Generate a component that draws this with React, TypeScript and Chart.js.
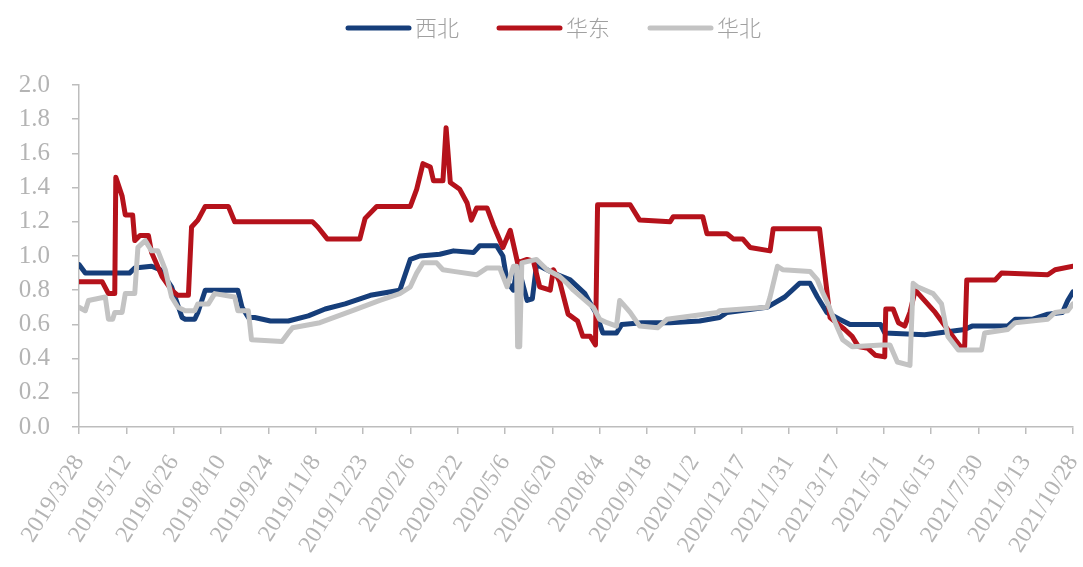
import React, { useEffect, useRef } from 'react';
import { Chart, registerables } from 'chart.js';

Chart.register(...registerables);

// Day offsets counted from 2019/3/28
const xibeiDays = [0, 6, 48, 53, 69, 77, 88, 98, 101, 110, 113, 120, 151, 155, 161, 167, 182, 199, 218, 234, 253, 277, 305, 315, 324, 343, 356, 375, 381, 397, 403, 407, 413, 417, 426, 431, 435, 451, 467, 481, 492, 498, 511, 516, 535, 562, 590, 609, 616, 654, 671, 685, 695, 702, 711, 723, 733, 762, 766, 804, 842, 849, 883, 890, 906, 921, 935, 940, 945];
const xibeiValues = [0.95, 0.9, 0.9, 0.93, 0.94, 0.92, 0.82, 0.64, 0.63, 0.63, 0.67, 0.8, 0.8, 0.7, 0.64, 0.64, 0.62, 0.62, 0.65, 0.69, 0.72, 0.77, 0.8, 0.98, 1.0, 1.01, 1.03, 1.02, 1.06, 1.06, 1.0, 0.85, 0.8, 0.95, 0.74, 0.75, 0.95, 0.9, 0.86, 0.78, 0.66, 0.55, 0.55, 0.6, 0.61, 0.61, 0.62, 0.64, 0.67, 0.7, 0.76, 0.84, 0.84, 0.76, 0.67, 0.63, 0.6, 0.6, 0.55, 0.54, 0.57, 0.59, 0.59, 0.63, 0.63, 0.66, 0.67, 0.74, 0.79];

const huadongDays = [0, 22, 28, 34, 35, 41, 44, 51, 53, 58, 66, 69, 79, 88, 94, 104, 107, 113, 120, 142, 148, 222, 227, 236, 267, 272, 283, 315, 321, 327, 334, 337, 346, 349, 353, 362, 369, 373, 378, 388, 394, 403, 410, 417, 426, 432, 438, 448, 451, 457, 465, 474, 479, 486, 491, 493, 524, 533, 562, 565, 593, 597, 616, 622, 631, 638, 657, 660, 704, 709, 714, 728, 735, 741, 750, 757, 766, 767, 774, 779, 785, 790, 795, 814, 833, 838, 842, 844, 871, 877, 921, 928, 945];
const huadongValues = [0.85, 0.85, 0.78, 0.78, 1.46, 1.35, 1.24, 1.24, 1.09, 1.12, 1.12, 1.02, 0.88, 0.8, 0.77, 0.77, 1.17, 1.21, 1.29, 1.29, 1.2, 1.2, 1.17, 1.1, 1.1, 1.22, 1.29, 1.29, 1.39, 1.54, 1.52, 1.44, 1.44, 1.75, 1.43, 1.39, 1.31, 1.21, 1.28, 1.28, 1.18, 1.05, 1.15, 0.96, 0.98, 0.97, 0.82, 0.8, 0.92, 0.85, 0.66, 0.62, 0.53, 0.53, 0.48, 1.3, 1.3, 1.21, 1.2, 1.23, 1.23, 1.13, 1.13, 1.1, 1.1, 1.05, 1.03, 1.16, 1.16, 0.9, 0.64, 0.57, 0.53, 0.47, 0.46, 0.42, 0.41, 0.69, 0.69, 0.61, 0.59, 0.67, 0.8, 0.67, 0.51, 0.47, 0.47, 0.86, 0.86, 0.9, 0.89, 0.92, 0.94];

const huabeiDays = [0, 6, 9, 25, 28, 32, 34, 41, 44, 53, 56, 63, 69, 75, 82, 88, 94, 101, 110, 113, 123, 129, 148, 151, 161, 164, 193, 199, 203, 229, 260, 286, 305, 315, 321, 327, 340, 346, 356, 378, 388, 400, 407, 413, 416, 417, 419, 421, 435, 445, 457, 464, 470, 489, 495, 502, 511, 514, 517, 524, 533, 550, 559, 607, 609, 654, 657, 664, 669, 695, 702, 706, 712, 719, 726, 735, 763, 771, 778, 790, 793, 797, 812, 820, 826, 836, 858, 861, 883, 890, 921, 928, 940, 945];
const huabeiValues = [0.7, 0.68, 0.74, 0.76, 0.63, 0.63, 0.67, 0.67, 0.78, 0.78, 1.05, 1.09, 1.03, 1.03, 0.92, 0.76, 0.7, 0.68, 0.68, 0.72, 0.72, 0.78, 0.76, 0.68, 0.68, 0.51, 0.5, 0.55, 0.58, 0.61, 0.68, 0.74, 0.78, 0.82, 0.9, 0.96, 0.96, 0.92, 0.91, 0.89, 0.93, 0.93, 0.82, 0.94, 0.94, 0.47, 0.47, 0.96, 0.98, 0.92, 0.88, 0.84, 0.8, 0.7, 0.63, 0.61, 0.59, 0.74, 0.72, 0.67, 0.59, 0.58, 0.63, 0.67, 0.68, 0.7, 0.76, 0.94, 0.92, 0.91, 0.86, 0.8, 0.72, 0.61, 0.51, 0.47, 0.48, 0.48, 0.38, 0.36, 0.84, 0.82, 0.78, 0.72, 0.53, 0.45, 0.45, 0.55, 0.57, 0.61, 0.63, 0.67, 0.68, 0.72];

const seriesNames = ['西北', '华东', '华北'];
const seriesColors = ['#163E7A', '#B5121B', '#C3C3C3'];

const xMin = 0;
const xMax = 945;
const xStep = 45;
const yTicks = [0, 0.2, 0.4, 0.6, 0.8, 1.0, 1.2, 1.4, 1.6, 1.8, 2.0];

function dayLabel(v: number): string {
  const d = new Date(2019, 2, 28 + Math.round(v));
  return `${d.getFullYear()}/${d.getMonth() + 1}/${d.getDate()}`;
}

function toPoints(days: number[], vals: number[]) {
  return days.map((d, i) => ({ x: d, y: vals[i] }));
}

function legendLine(color: string): HTMLCanvasElement {
  const c = document.createElement('canvas');
  c.width = 70;
  c.height = 8;
  const g = c.getContext('2d');
  if (g) {
    g.strokeStyle = color;
    g.lineWidth = 5;
    g.lineCap = 'round';
    g.beginPath();
    g.moveTo(3, 4);
    g.lineTo(64, 4);
    g.stroke();
  }
  return c;
}

export default function App() {
  const ref = useRef<HTMLCanvasElement | null>(null);

  useEffect(() => {
    if (!ref.current) return;
    const allDays = [xibeiDays, huadongDays, huabeiDays];
    const allVals = [xibeiValues, huadongValues, huabeiValues];
    const legendImgs = seriesColors.map(legendLine);

    const layoutTweaks = {
      id: 'layoutTweaks',
      beforeInit(chart: any) {
        const lg = chart.legend;
        if (lg) {
          const origFit = lg.fit;
          lg.fit = function () {
            origFit.call(this);
            this.height = 116;
          };
        }
      },
      afterLayout(chart: any) {
        const lg = chart.legend;
        if (lg) {
          lg.left += 22;
          lg.right += 22;
        }
      },
    };

    const chart = new Chart(ref.current, {
      type: 'line',
      data: {
        datasets: seriesNames.map((name, i) => ({
          label: name,
          data: toPoints(allDays[i], allVals[i]),
          borderColor: seriesColors[i],
          backgroundColor: seriesColors[i],
          borderWidth: 5,
          pointRadius: 0,
          tension: 0,
          borderCapStyle: 'round' as const,
          borderJoinStyle: 'round' as const,
          order: 3 - i,
        })),
      },
      plugins: [layoutTweaks],
      options: {
        animation: false,
        responsive: true,
        maintainAspectRatio: false,
        layout: { padding: { top: -31, right: 10, left: 0, bottom: 0 } },
        plugins: {
          tooltip: { enabled: false },
          legend: {
            position: 'top',
            labels: {
              sort: (a: any, b: any) => a.datasetIndex - b.datasetIndex,
              usePointStyle: true,
              pointStyleWidth: 48,
              boxHeight: 22,
              padding: 48,
              color: '#a0a0a0',
              font: { family: '"Noto Sans CJK SC", sans-serif', size: 22, weight: 300 as any },
              generateLabels: (c: any) =>
                Chart.defaults.plugins.legend.labels
                  .generateLabels(c)
                  .map((it: any) => ({ ...it, pointStyle: legendImgs[it.datasetIndex] })),
            },
          },
        },
        scales: {
          x: {
            type: 'linear',
            min: xMin,
            max: xMax,
            afterFit: (s: any) => {
              s.height = 140;
              s.paddingRight = 0;
              s.paddingLeft = 0;
            },
            border: { display: true, color: '#bdbdbd', width: 1.5 },
            grid: { display: true, drawOnChartArea: false, drawTicks: true, tickLength: 7, color: '#bdbdbd', lineWidth: 1.5 },
            ticks: {
              stepSize: xStep,
              autoSkip: false,
              minRotation: 58,
              maxRotation: 58,
              padding: 16,
              color: '#b4b4b4',
              font: { family: '"Liberation Serif", serif', size: 24 },
              callback: (v: any) => dayLabel(Number(v)),
            },
          },
          y: {
            min: 0,
            max: 2,
            afterFit: (s: any) => {
              s.width = 79;
            },
            afterBuildTicks: (s: any) => {
              s.ticks = yTicks.map((v) => ({ value: v }));
            },
            border: { display: true, color: '#bdbdbd', width: 1.5 },
            grid: { display: true, drawOnChartArea: false, drawTicks: true, tickLength: 7, color: '#bdbdbd', lineWidth: 1.5 },
            ticks: {
              padding: 22,
              color: '#b4b4b4',
              font: { family: '"Liberation Serif", serif', size: 25 },
              callback: (v: any) => Number(v).toFixed(1),
            },
          },
        },
      },
    });
    return () => chart.destroy();
  }, []);

  return (
    <div style={{ position: 'fixed', left: 0, top: 0, width: 1083, height: 567, background: '#fff' }}>
      <canvas ref={ref} />
    </div>
  );
}
